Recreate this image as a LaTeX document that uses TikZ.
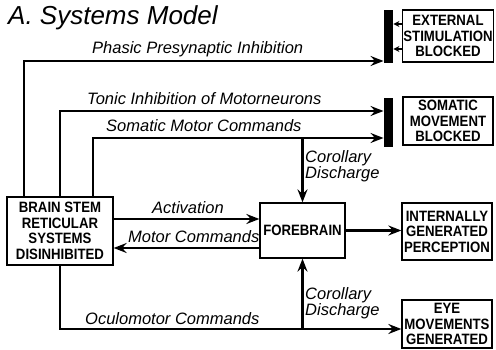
\documentclass[tikz,border=0pt]{standalone}
\usepackage{fontspec}
\setmainfont{Liberation Sans}
\newfontfamily\boxfont{Liberation Sans}[FakeStretch=0.88]
\usetikzlibrary{arrows.meta}
\tikzset{
  box/.style={draw, line width=1.3pt, inner sep=1pt, align=center,
    font=\boxfont\bfseries\fontsize{15}{15.5}\selectfont},
  blockbar/.style={fill=black, draw=none, minimum width=9.5pt, inner sep=0pt},
  arr/.style={line width=2.4pt, -{Stealth[length=13pt,width=10pt,inset=4.5pt]}},
  smallarr/.style={line width=1.5pt, -{Stealth[length=6pt,width=6pt,inset=2pt]}},
  lbl/.style={inner sep=0pt, font=\itshape\fontsize{16.5}{15}\selectfont},
}
\begin{document}
\begin{tikzpicture}[x=1pt,y=-1pt]
\useasboundingbox (0,0) rectangle (496,350);

% title
\node[lbl, anchor=base west, font=\itshape\fontsize{26}{28}\selectfont] (title) at (8,25) {A. Systems Model};

% boxes
\node[box, minimum width=106pt, minimum height=68pt] (bs) at (60,231) {BRAIN STEM\\RETICULAR\\SYSTEMS\\DISINHIBITED};
\node[box, minimum width=85pt, minimum height=55pt] (fb) at (302.5,230.5) {FOREBRAIN};
\node[box, minimum width=91pt, minimum height=52pt] (ext) at (448,36) {EXTERNAL\\STIMULATION\\BLOCKED};
\node[box, minimum width=90pt, minimum height=48pt] (som) at (448,121) {SOMATIC\\MOVEMENT\\BLOCKED};
\node[box, minimum width=90pt, minimum height=57pt] (igp) at (447,231.5) {INTERNALLY\\GENERATED\\PERCEPTION};
\node[box, minimum width=90pt, minimum height=48pt] (eye) at (447,324) {EYE\\MOVEMENTS\\GENERATED};

% blocking bars
\node[blockbar, minimum height=53pt] (bar1) at (388.5,36.5) {};
\node[blockbar, minimum height=49pt] (bar2) at (388.5,122.5) {};

% corner coordinates
\coordinate (ph) at (24,61);
\coordinate (to) at (60,111);
\coordinate (so) at (93,138);
\coordinate (act) at (0,219);
\coordinate (mc) at (0,248);
\coordinate (oc) at (60,329);
\coordinate (s1) at (0,24);
\coordinate (s2) at (0,49);

% connectors
\draw[arr] (bs.north -| ph) |- (bar1.west |- ph);
\draw[arr] (bs.north -| to) |- (bar2.west |- to);
\draw[arr] (bs.north -| so) |- (bar2.west |- so);
\draw[arr] (fb.north |- so) -- (fb.north);
\draw[arr] (bs.east |- act) -- (fb.west |- act);
\draw[arr] (fb.west |- mc) -- (bs.east |- mc);
\draw[arr] (fb.east) -- (igp.west |- fb.east);
\draw[arr] (bs.south -| oc) |- (eye.west |- oc);
\draw[arr] (fb.south |- oc) -- (fb.south);
\draw[smallarr] (ext.west |- s1) -- (bar1.east |- s1);
\draw[smallarr] (ext.west |- s2) -- (bar1.east |- s2);

% labels
\node[lbl, anchor=base west] (lph) at (92,54) {Phasic Presynaptic Inhibition};
\node[lbl, anchor=base west] (lto) at (87,105) {Tonic Inhibition of Motorneurons};
\node[lbl, anchor=base west] (lso) at (106,132) {Somatic Motor Commands};
\node[lbl, anchor=base west] (lact) at (152,214) {Activation};
\node[lbl, anchor=base west] (lmc) at (128,243) {Motor Commands};
\node[lbl, anchor=base west] (loc) at (85,324) {Oculomotor Commands};
\node[lbl, anchor=north west, align=left] (lcd1) at (305,150) {Corollary\\Discharge};
\node[lbl, anchor=north west, align=left] (lcd2) at (305,287) {Corollary\\Discharge};
\end{tikzpicture}
\end{document}
